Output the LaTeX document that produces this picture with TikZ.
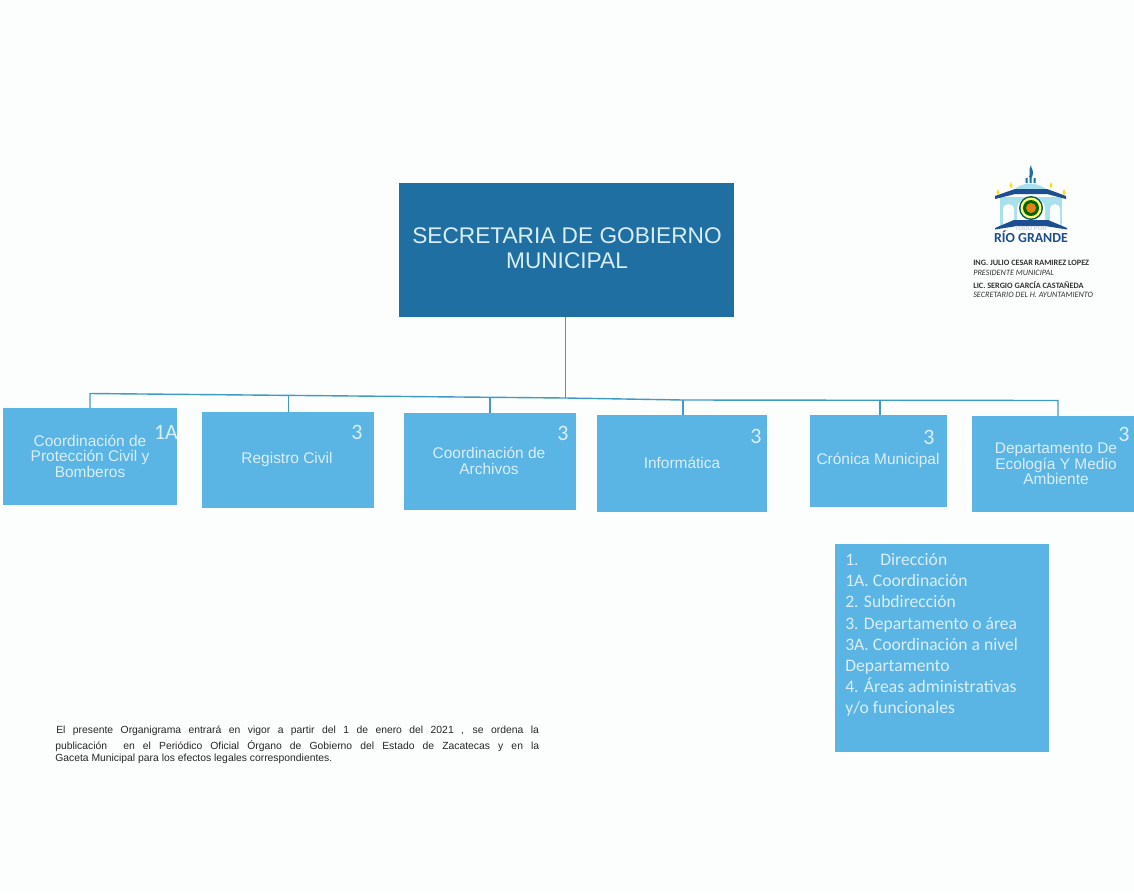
\documentclass[tikz,border=0pt]{standalone}
\usepackage{fontspec}
\setmainfont{Liberation Sans}
\newfontfamily\calib{Carlito}
\definecolor{paper}{HTML}{FCFDFD}
\definecolor{sky}{HTML}{5AB4E4}
\definecolor{deep}{HTML}{1F6FA3}
\definecolor{wire}{HTML}{3E9BC6}
\definecolor{navy}{HTML}{1D4E8F}
\definecolor{pale}{HTML}{A9E0EE}
\definecolor{txtw}{HTML}{D9EEF9}
\tikzset{
  x=0.75pt,y=-0.75pt,
  org/.style={fill=sky,draw=none,inner sep=0pt,anchor=north west},
  orgtext/.style={align=center,text=txtw,inner sep=0pt,font=\fontsize{11.6}{11.6}\selectfont},
  lvl/.style={text=txtw,inner sep=0pt,font=\calib\fontsize{16.5}{16}\selectfont},
  wirel/.style={draw=wire,line width=1.05pt},
  sign/.style={inner sep=0pt,anchor=west,text=black!80},
}
\begin{document}
\begin{tikzpicture}
\useasboundingbox[fill=paper] (0,0) rectangle (1134,893);
% top box
\node[fill=deep,inner sep=0pt,minimum width=335*0.75pt,minimum height=134*0.75pt] (top) at (566.5,249.5) {};
\node[align=center,text=txtw,inner sep=0pt,font=\fontsize{17}{18.6}\selectfont] (title) at (567,248.5) {SECRETARIA DE GOBIERNO\\MUNICIPAL};
% boxes
\node[org,minimum width=174*0.75pt,minimum height=97*0.75pt] (a) at (3,408) {};
\node[org,minimum width=172*0.75pt,minimum height=96*0.75pt] (b) at (201.5,412) {};
\node[org,minimum width=172*0.75pt,minimum height=97*0.75pt] (c) at (403.5,413) {};
\node[org,minimum width=170*0.75pt,minimum height=97*0.75pt] (d) at (596.5,415) {};
\node[org,minimum width=137*0.75pt,minimum height=92*0.75pt] (e) at (810,415) {};
\node[org,minimum width=163*0.75pt,minimum height=96*0.75pt] (f) at (971.5,416) {};
% box texts
\node[orgtext] (ta) at (90,456) {Coordinación de\\Protección Civil y\\Bomberos};
\node[orgtext] (tb) at (287,459) {Registro Civil};
\node[orgtext] (tc) at (489,461) {Coordinación de\\Archivos};
\node[orgtext] (td) at (682,463) {Informática};
\node[orgtext] (te) at (878,460) {Crónica Municipal};
\node[orgtext] (tf) at (1056,464) {Departamento De\\Ecología Y Medio\\Ambiente};
% levels
\node[lvl] (la) at (166,432) {1A};
\node[lvl] (lb) at (357,432) {3};
\node[lvl] (lc) at (563,433) {3};
\node[lvl] (ld) at (756,436) {3};
\node[lvl] (le) at (929,437) {3};
\node[lvl] (lf) at (1124,434) {3};
% connectors
\coordinate (bl) at (90,393.5);
\coordinate (bm) at (565.5,398);
\coordinate (bn) at (683,400);
\coordinate (br) at (1058,400.5);
\draw[wirel] (top.south -| bm) -- (bm);
\draw[wirel] (a.north -| bl) -- (bl) -- (bm) -- (bn) -- (br) -- (f.north -| br);
\draw[wirel] (b.north -| 288.5,0) -- (288.5,395.5);
\draw[wirel] (c.north -| 490,0) -- (490,397);
\draw[wirel] (d.north -| bn) -- (bn);
\draw[wirel] (e.north -| 880,0) -- (880,400.2);
% legend
\node[org,minimum width=214*0.75pt,minimum height=208*0.75pt] (leg) at (835,544) {};
\begin{scope}[every node/.style={inner sep=0pt,anchor=base west,text=txtw,font=\calib\fontsize{13.2}{14}\selectfont}]
\node (l1) at (845,565) {1.};
\node (l1b) at (880,565) {Dirección};
\node (l2) at (845,586) {1A. Coordinación};
\node (l3) at (845,607) {2. Subdirección};
\node (l4) at (845,629) {3. Departamento o área};
\node (l5) at (845,650) {3A. Coordinación a nivel};
\node (l6) at (845,671) {Departamento};
\node (l7) at (845,692) {4. Áreas administrativas};
\node (l8) at (845,713) {y/o funcionales};
\end{scope}
% note
\begin{scope}[every node/.style={inner sep=0pt,anchor=base west,text=black!85,font=\fontsize{7.77}{9}\selectfont}]
\node (n1) at (56,733) {\makebox[362pt][s]{El presente Organigrama entrará en vigor a partir del 1 de enero del 2021 , se ordena la}};
\node (n2) at (55,749) {\makebox[363pt][s]{publicación \ en el Periódico Oficial Órgano de Gobierno del Estado de Zacatecas y en la}};
\node (n3) at (55,761) {Gaceta Municipal para los efectos legales correspondientes.};
\end{scope}
% logo
\fill[navy!80!cyan] (1029,177) .. controls (1031,174) and (1028,170) .. (1031,165) .. controls (1031,169) and (1034,170) .. (1033,173) .. controls (1033,175) and (1032,177) .. (1031,179) -- cycle;
\fill[pale] (1013,192) .. controls (1018,181) and (1042,181) .. (1048,192) -- cycle;
\fill[navy!80!cyan] (1025.5,178) rectangle (1027.5,183) (1029.5,178) rectangle (1031.5,183) (1033.5,178) rectangle (1035.5,183);
\fill[yellow!80!orange] (998,189) -- (999.5,193) -- (998,195) -- (996.5,193) -- cycle;
\fill[yellow!80!orange] (1011,182) -- (1012.5,186) -- (1011,188) -- (1009.5,186) -- cycle;
\fill[yellow!80!orange] (1051,182) -- (1052.5,186) -- (1051,188) -- (1049.5,186) -- cycle;
\fill[yellow!80!orange] (1064,189) -- (1065.5,193) -- (1064,195) -- (1062.5,193) -- cycle;
\fill[pale] (1000,197) rectangle (1062,226);
\fill[navy] (995,196) -- (1015,189) -- (1047,189) -- (1066,196) -- (1066,199) -- (1047,194) -- (1015,194) -- (995,199) -- cycle;
\fill[paper] (1003,226) -- (1003,210) .. controls (1003,202) and (1014,202) .. (1014,210) -- (1014,226) -- cycle;
\fill[paper] (1050,226) -- (1050,210) .. controls (1050,202) and (1060,202) .. (1060,210) -- (1060,226) -- cycle;
\fill[paper] (1017,226) -- (1017,208) .. controls (1017,195) and (1045,195) .. (1045,208) -- (1045,226) -- cycle;
\fill[teal!70!black] (1031,208) circle (12);
\fill[yellow!55!white] (1031,208) circle (10.5);
\fill[green!40!black] (1031,208) circle (8);
\fill[orange!65!brown] (1031,208) circle (5);
\fill[navy] (995,228) -- (1014,220) -- (1048,220) -- (1067,228) -- (1067,229.5) -- (1045,226) -- (1017,226) -- (995,229.5) -- cycle;
\node[inner sep=0pt,text=navy!25,font=\bfseries\fontsize{4.5}{5}\selectfont] (todo) at (1031,228) {TODO POR};
\node[inner sep=0pt,text=navy,font=\calib\bfseries\fontsize{10.4}{11}\selectfont] (rio) at (1031,237) {RÍO GRANDE};
\node[sign,font=\calib\bfseries\fontsize{6.15}{7}\selectfont] (s1) at (973,262.5) {ING. JULIO CESAR RAMIREZ LOPEZ};
\node[sign,font=\calib\itshape\fontsize{6.15}{7}\selectfont] (s2) at (973,272.5) {PRESIDENTE MUNICIPAL};
\node[sign,font=\calib\bfseries\fontsize{6.15}{7}\selectfont] (s3) at (973,285) {LIC. SERGIO GARCÍA CASTAÑEDA};
\node[sign,font=\calib\itshape\fontsize{6.15}{7}\selectfont] (s4) at (973,295) {SECRETARIO DEL H. AYUNTAMIENTO};
\end{tikzpicture}
\end{document}
